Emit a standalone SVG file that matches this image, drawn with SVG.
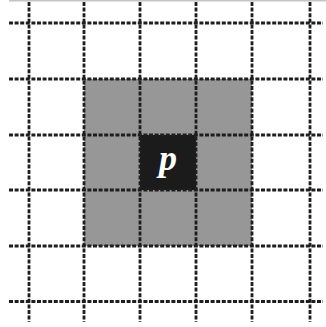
<svg xmlns="http://www.w3.org/2000/svg" width="326" height="327" viewBox="0 0 326 327">
<style>
.g line{stroke:#1e1e1e;stroke-width:2.8;stroke-dasharray:4 1.6}
</style>
<rect width="326" height="327" fill="#fff"/>
<line x1="9" y1="0.7" x2="326" y2="0.7" stroke="#c4c4c4" stroke-width="1.5"/>
<g id="neighborhood">
<rect x="84" y="79" width="168" height="167" fill="#979797"/>
</g>
<g id="center">
<rect x="140" y="135" width="56" height="55" fill="#1b1b1b"/>
<text x="168" y="170" text-anchor="middle" font-family="Liberation Serif, serif" font-style="italic" font-weight="bold" font-size="36" fill="#fff">p</text>
</g>
<g id="grid" class="g">
<line x1="9" y1="23" x2="323" y2="23"/>
<line x1="9" y1="79" x2="323" y2="79"/>
<line x1="9" y1="135" x2="323" y2="135"/>
<line x1="9" y1="190" x2="323" y2="190"/>
<line x1="9" y1="246" x2="323" y2="246"/>
<line x1="9" y1="301.5" x2="323" y2="301.5"/>
<line x1="29" y1="2" x2="29" y2="322"/>
<line x1="84" y1="2" x2="84" y2="322"/>
<line x1="140" y1="2" x2="140" y2="322"/>
<line x1="196" y1="2" x2="196" y2="322"/>
<line x1="252" y1="2" x2="252" y2="322"/>
<line x1="310" y1="2" x2="310" y2="322"/>
</g>
</svg>
